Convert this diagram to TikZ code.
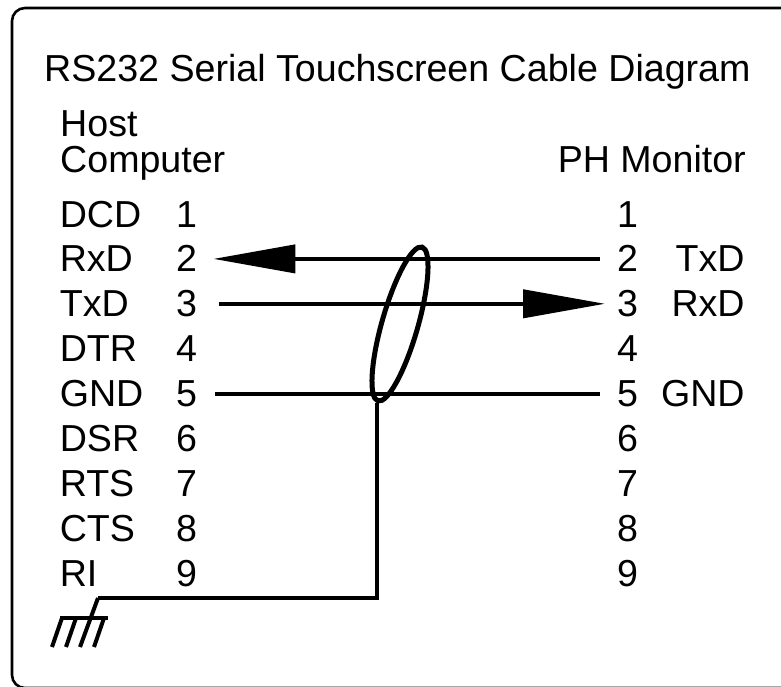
\documentclass[tikz,border=0pt]{standalone}
\usepackage{fontspec}
\setmainfont{Liberation Sans}
\usetikzlibrary{positioning}
\usetikzlibrary{arrows.meta,shapes.geometric}

\tikzset{
	txt/.style={font=\fontsize{37.6pt}{36pt}\selectfont, inner sep=0pt},
	pinno/.style={txt, text height=26pt, text depth=0pt, text width=21pt, align=left},
	sig/.style={txt, text height=26pt, text depth=0pt, text width=100pt, align=left},
	sigr/.style={txt, text height=26pt, text depth=0pt, text width=90pt, align=right},
	wire/.style={line width=4pt},
	sigarrow/.style={-{Triangle[length=82pt,width=28pt]}},
}

\begin{document}
\begin{tikzpicture}[x=1pt,y=-1pt]
				\useasboundingbox (0,0) rectangle (781,687);
				\clip (0,0) rectangle (781,687);
				\draw[line width=2.6pt, rounded corners=13pt] (12,8) rectangle (800,688);

				\node[txt, anchor=base west](title) at (44,82) {RS232 Serial Touchscreen Cable Diagram};
				\node[txt, anchor=north west, align=left](host) at (60,110) {Host\\Computer};
				\node[txt, anchor=base east](monitor) at (746,172) {PH Monitor};

				% host side
				\node[pinno, anchor=base west](h1) at (176,227) {1};
				\node[pinno, below=18.5pt of h1](h2) {2};
				\node[pinno, below=18.5pt of h2](h3) {3};
				\node[pinno, below=18.5pt of h3](h4) {4};
				\node[pinno, below=18.5pt of h4](h5) {5};
				\node[pinno, below=18.5pt of h5](h6) {6};
				\node[pinno, below=18.5pt of h6](h7) {7};
				\node[pinno, below=18.5pt of h7](h8) {8};
				\node[pinno, below=18.5pt of h8](h9) {9};
				\node[sig, left=16pt of h1](dcd) {DCD};
				\node[sig, left=16pt of h2](rxd) {RxD};
				\node[sig, left=16pt of h3](txd) {TxD};
				\node[sig, left=16pt of h4](dtr) {DTR};
				\node[sig, left=16pt of h5](gnd) {GND};
				\node[sig, left=16pt of h6](dsr) {DSR};
				\node[sig, left=16pt of h7](rts) {RTS};
				\node[sig, left=16pt of h8](cts) {CTS};
				\node[sig, left=16pt of h9](ri) {RI};

				% monitor side
				\node[pinno, anchor=base west](m1) at (617,227) {1};
				\node[pinno, below=18.5pt of m1](m2) {2};
				\node[pinno, below=18.5pt of m2](m3) {3};
				\node[pinno, below=18.5pt of m3](m4) {4};
				\node[pinno, below=18.5pt of m4](m5) {5};
				\node[pinno, below=18.5pt of m5](m6) {6};
				\node[pinno, below=18.5pt of m6](m7) {7};
				\node[pinno, below=18.5pt of m7](m8) {8};
				\node[pinno, below=18.5pt of m8](m9) {9};
				\node[sigr, right=16pt of m2](mtxd) {TxD};
				\node[sigr, right=16pt of m3](mrxd) {RxD};
				\node[sigr, right=16pt of m5](mgnd) {GND};

				\node[draw, ellipse, line width=5pt, minimum width=36pt, minimum height=160pt, inner sep=0pt, rotate=-16](shield) at (400,324) {};
				\coordinate (gtap) at (98,598);

				\draw[wire, sigarrow] ([xshift=-17pt]m2.west) to ([xshift=16pt]h2.east);
				\draw[wire, sigarrow] ([xshift=22pt]h3.east) to ([xshift=-12pt]m3.west);
				\draw[wire] ([xshift=18pt]h5.east) to ([xshift=-17pt]m5.west);
				\draw[wire] (shield.south) |- (gtap);

				% ground
				\draw[wire] (gtap) -- ++(-18,49);
				\draw[wire] ([shift={(-38,20)}]gtap) -- ++(48,0);
				\draw[wire] ([shift={(-36,20)}]gtap) -- ++(-10,29);
				\draw[wire] ([shift={(-22,20)}]gtap) -- ++(-10,29);
				\draw[wire] ([shift={(6,20)}]gtap) -- ++(-10,29);
\end{tikzpicture}
\end{document}
